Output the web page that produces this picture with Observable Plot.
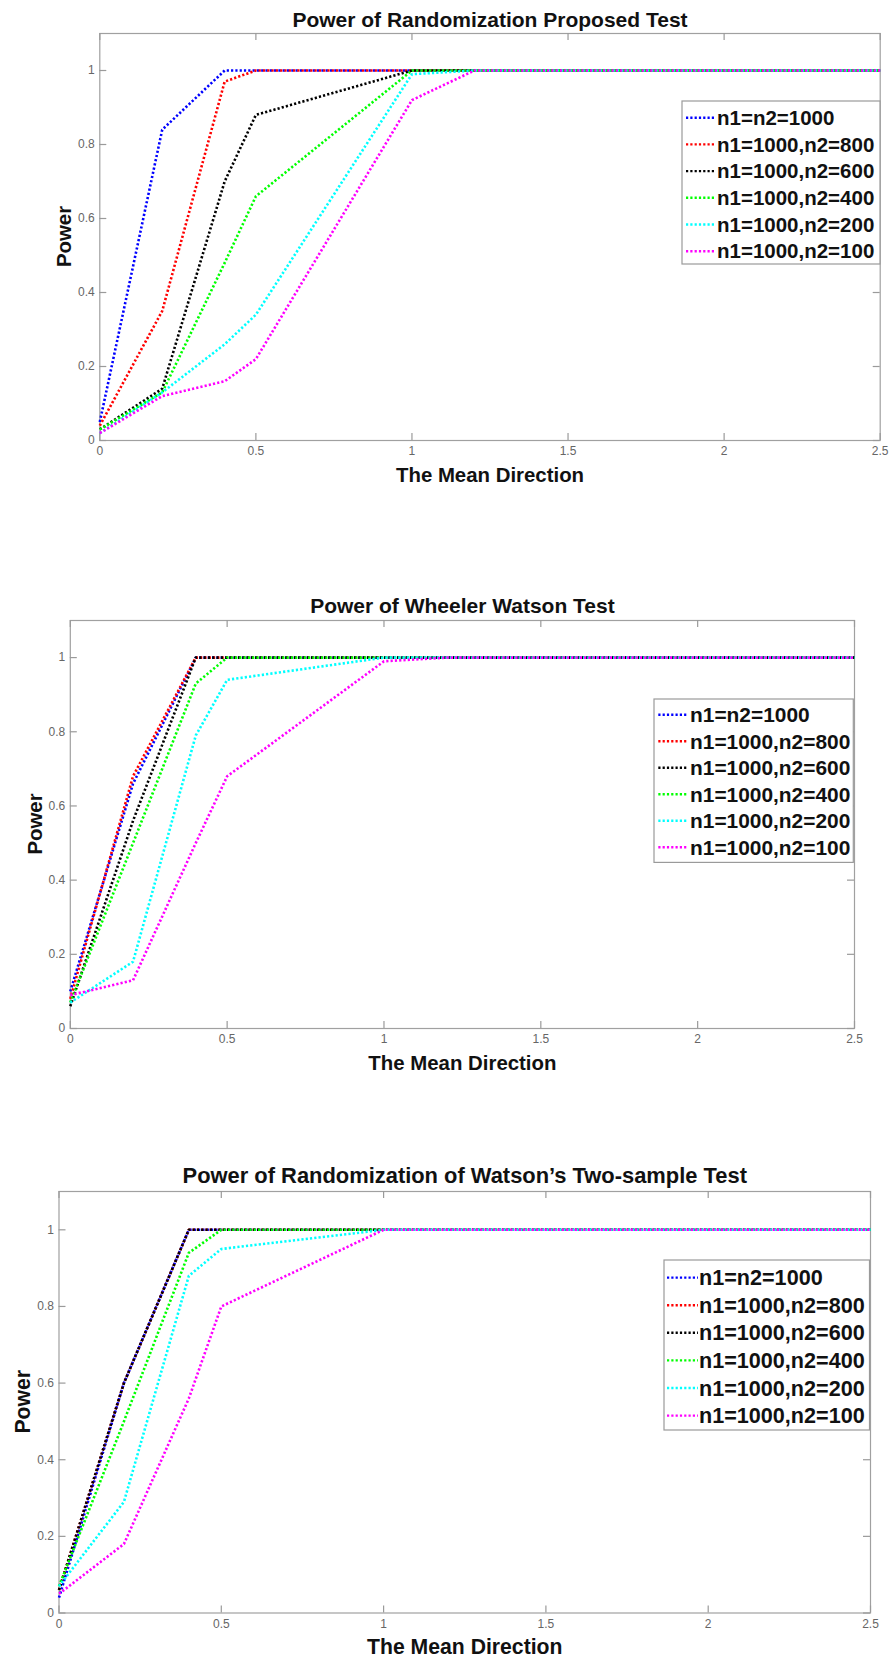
<!DOCTYPE html>
<html><head><meta charset="utf-8">
<script src="https://cdn.jsdelivr.net/npm/d3@7"></script>
<script src="https://cdn.jsdelivr.net/npm/@observablehq/plot@0.6"></script>
<style>
body{margin:0;background:#fff;}
#root{position:relative;width:890px;height:1662px;background:#fff;overflow:hidden;}
.panel{position:absolute;left:0;width:890px;}
.panel svg{display:block;}
</style></head><body><div id="root"></div>
<script>
// ---------- data ----------
const meanDirection = [0, 0.2, 0.4, 0.5, 1, 1.2, 1.5, 2, 2.5];
const seriesLabels = ["n1=n2=1000", "n1=1000,n2=800", "n1=1000,n2=600", "n1=1000,n2=400", "n1=1000,n2=200", "n1=1000,n2=100"];
const xTickValues = [0, 0.5, 1, 1.5, 2, 2.5];
const yTickValues = [0, 0.2, 0.4, 0.6, 0.8, 1];
const xDomain = [0, 2.5];
const yDomain = [0, 1.1];
const chartTitles = ["Power of Randomization Proposed Test", "Power of Wheeler Watson Test", "Power of Randomization of Watson\u2019s Two-sample Test"];
const xAxisLabel = "The Mean Direction";
const yAxisLabel = "Power";

// Chart 1: Randomization Proposed Test
const proposed_n1000   = [0.05, 0.84, 1.00, 1.00, 1.00, 1, 1, 1, 1];
const proposed_n800    = [0.04, 0.35, 0.97, 1.00, 1.00, 1, 1, 1, 1];
const proposed_n600    = [0.03, 0.14, 0.70, 0.88, 1.00, 1, 1, 1, 1];
const proposed_n400    = [0.03, 0.13, 0.48, 0.66, 1.00, 1, 1, 1, 1];
const proposed_n200    = [0.02, 0.13, 0.26, 0.34, 0.99, 1, 1, 1, 1];
const proposed_n100    = [0.02, 0.12, 0.16, 0.22, 0.92, 1, 1, 1, 1];

// Chart 2: Wheeler Watson Test
const wheeler_n1000    = [0.10, 0.66, 1.00, 1.00, 1.00, 1, 1, 1, 1];
const wheeler_n800     = [0.08, 0.68, 1.00, 1.00, 1.00, 1, 1, 1, 1];
const wheeler_n600     = [0.06, 0.56, 1.00, 1.00, 1.00, 1, 1, 1, 1];
const wheeler_n400     = [0.07, 0.50, 0.93, 1.00, 1.00, 1, 1, 1, 1];
const wheeler_n200     = [0.07, 0.18, 0.79, 0.94, 1.00, 1, 1, 1, 1];
const wheeler_n100     = [0.09, 0.13, 0.50, 0.68, 0.99, 1, 1, 1, 1];

// Chart 3: Randomization of Watson's Two-sample Test
const watson_n1000     = [0.04, 0.60, 1.00, 1.00, 1.00, 1, 1, 1, 1];
const watson_n800      = [0.06, 0.60, 1.00, 1.00, 1.00, 1, 1, 1, 1];
const watson_n600      = [0.06, 0.60, 1.00, 1.00, 1.00, 1, 1, 1, 1];
const watson_n400      = [0.07, 0.50, 0.94, 1.00, 1.00, 1, 1, 1, 1];
const watson_n200      = [0.07, 0.29, 0.88, 0.95, 1.00, 1, 1, 1, 1];
const watson_n100      = [0.05, 0.18, 0.56, 0.80, 1.00, 1, 1, 1, 1];

// ---------- styles ----------
const seriesColors = ["#0000ff", "#ff0000", "#000000", "#00ff00", "#00ffff", "#ff00ff"];
const FONT = "'Liberation Sans', Arial, Helvetica, sans-serif";
const DASH = "2.2,2.1";

const panels = [
  {series: [proposed_n1000, proposed_n800, proposed_n600, proposed_n400, proposed_n200, proposed_n100],
   top: 0, height: 500, mL: 99.3, mR: 10.3, mT: 33, mB: 60,
   titleDy: -13, titleSize: 21, labelSize: 20.4, xLabelDy: 35, yLabelDx: -35,
   legend: {left: 682, top: 101, width: 198, height: 163, row0: 16.7, rowGap: 26.7, s0: 4, s1: 32, tx: 35, fs: 20.5}},
  {series: [wheeler_n1000, wheeler_n800, wheeler_n600, wheeler_n400, wheeler_n200, wheeler_n100],
   top: 560, height: 520, mL: 69.8, mR: 36, mT: 60, mB: 52,
   titleDy: -14.6, titleSize: 21, labelSize: 20.4, xLabelDy: 35, yLabelDx: -35,
   legend: {left: 654, top: 139.3, width: 199.3, height: 163.4, row0: 15.7, rowGap: 26.5, s0: 4.3, s1: 34.3, tx: 36, fs: 20.9}},
  {series: [watson_n1000, watson_n800, watson_n600, watson_n400, watson_n200, watson_n100],
   top: 1130, height: 532, mL: 58.5, mR: 20, mT: 61, mB: 49.5,
   titleDy: -16, titleSize: 21.9, labelSize: 21.2, xLabelDy: 34.5, yLabelDx: -35.8,
   legend: {left: 664, top: 130.4, width: 205.5, height: 170, row0: 17.6, rowGap: 27.6, s0: 3, s1: 34, tx: 35, fs: 21.6}}
];

const root = document.getElementById("root");

panels.forEach((p, k) => {
  const rows = seriesLabels.flatMap((s, i) => meanDirection.map((x, j) => ({series: s, x, power: p.series[i][j]})));
  const fw = 890 - p.mL - p.mR;
  const fh = p.height - p.mT - p.mB;
  const tickLen = 7;
  const tickStroke = "#9a9a9a";
  const chart = Plot.plot({
    width: 890, height: p.height,
    marginLeft: p.mL, marginRight: p.mR, marginTop: p.mT, marginBottom: p.mB,
    style: {fontFamily: FONT, background: "white", overflow: "visible"},
    x: {domain: xDomain},
    y: {domain: yDomain},
    color: {domain: seriesLabels, range: seriesColors},
    marks: [
      Plot.frame({stroke: "#a0a0a0", strokeWidth: 1.2}),
      // inward ticks (MATLAB style), bottom/top/left/right
      Plot.ruleX(xTickValues, {x: d => d, insetTop: fh - tickLen, stroke: tickStroke, strokeWidth: 1.2}),
      Plot.ruleX(xTickValues, {x: d => d, insetBottom: fh - tickLen, stroke: tickStroke, strokeWidth: 1.2}),
      Plot.ruleY(yTickValues, {y: d => d, insetRight: fw - tickLen, stroke: tickStroke, strokeWidth: 1.2}),
      Plot.ruleY(yTickValues, {y: d => d, insetLeft: fw - tickLen, stroke: tickStroke, strokeWidth: 1.2}),
      Plot.axisX({ticks: xTickValues, tickSize: 0, tickPadding: 6, tickFormat: d => String(d), fontSize: 12, color: "#666", label: null}),
      Plot.axisY({ticks: yTickValues, tickSize: 0, tickPadding: 5, tickFormat: d => String(d), fontSize: 12, color: "#666", label: null}),
      Plot.line(rows, {x: "x", y: "power", z: "series", stroke: "series", strokeWidth: 2.6, strokeDasharray: DASH, strokeLinecap: "butt"}),
      Plot.text([chartTitles[k]], {text: d => d, frameAnchor: "top", lineAnchor: "middle", textAnchor: "middle", dy: p.titleDy, fontSize: p.titleSize, fontWeight: "bold", fill: "#111"}),
      Plot.text([xAxisLabel], {text: d => d, frameAnchor: "bottom", lineAnchor: "middle", textAnchor: "middle", dy: p.xLabelDy, fontSize: p.labelSize, fontWeight: "bold", fill: "#111"})
    ]
  });
  // rotated y-axis title, placed explicitly: centred on the frame, left of the axis
  d3.select(chart).append("text")
    .attr("transform", `translate(${p.mL + p.yLabelDx},${p.mT + fh / 2}) rotate(-90)`)
    .attr("text-anchor", "middle")
    .attr("dy", "0.35em")
    .attr("font-family", FONT)
    .attr("font-size", p.labelSize)
    .attr("font-weight", "bold")
    .attr("fill", "#111")
    .text(yAxisLabel);

  const div = document.createElement("div");
  div.className = "panel";
  div.style.top = p.top + "px";
  div.style.height = p.height + "px";
  div.appendChild(chart);

  // legend overlay
  const L = p.legend;
  const svg = d3.create("svg")
    .attr("width", L.width + 2).attr("height", L.height + 2)
    .style("position", "absolute").style("left", (L.left - 1) + "px").style("top", (L.top - 1) + "px")
    .style("font-family", FONT);
  svg.append("rect").attr("x", 1).attr("y", 1).attr("width", L.width).attr("height", L.height)
    .attr("fill", "white").attr("stroke", "#9a9a9a").attr("stroke-width", 1.2);
  seriesLabels.forEach((s, i) => {
    const cy = 1 + L.row0 + i * L.rowGap;
    svg.append("line").attr("x1", 1 + L.s0).attr("x2", 1 + L.s1).attr("y1", cy).attr("y2", cy)
      .attr("stroke", seriesColors[i]).attr("stroke-width", 2.4).attr("stroke-dasharray", DASH);
    svg.append("text").attr("x", 1 + L.tx).attr("y", cy + 0.355 * L.fs)
      .attr("font-size", L.fs).attr("font-weight", "bold").attr("fill", "#111").text(s);
  });
  div.appendChild(svg.node());
  root.appendChild(div);
});
</script>
</body></html>
